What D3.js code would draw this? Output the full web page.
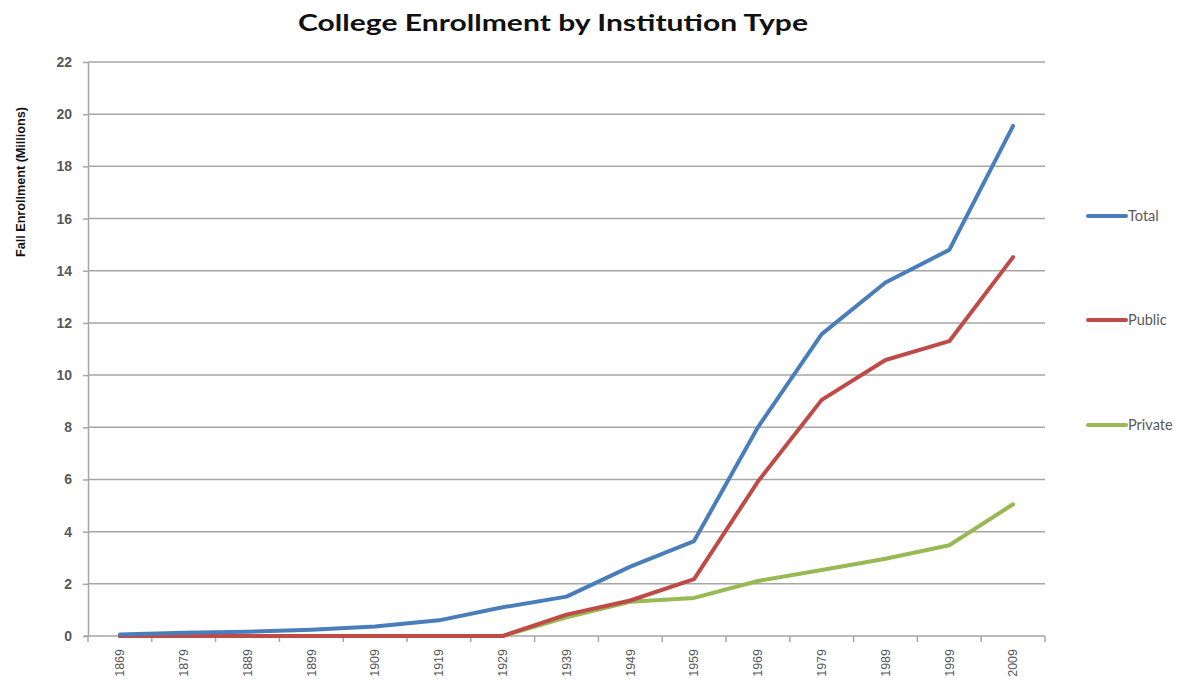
<!DOCTYPE html>
<html>
<head>
<meta charset="utf-8">
<script src="https://cdn.jsdelivr.net/npm/d3@7"></script>
<style>
  html, body { margin: 0; padding: 0; background: #fff; }
  svg { display: block; }
</style>
</head>
<body>
<svg id="chart" width="1184" height="682"></svg>
<script>
const years = ["1869","1879","1889","1899","1909","1919","1929","1939","1949","1959","1969","1979","1989","1999","2009"];
const totalValues   = [0.06, 0.12, 0.16, 0.24, 0.36, 0.60, 1.10, 1.51, 2.66, 3.64, 8.00, 11.57, 13.55, 14.80, 19.55];
const publicValues  = [0, 0, 0, 0, 0, 0, 0, 0.82, 1.36, 2.18, 5.92, 9.05, 10.58, 11.30, 14.52];
const privateValues = [0, 0, 0, 0, 0, 0, 0, 0.72, 1.31, 1.46, 2.11, 2.53, 2.96, 3.48, 5.05];
const seriesNames = ["Total", "Public", "Private"];
const seriesColors = ["#4a7ebb", "#be4b48", "#98b954"];
const yTicks = [0, 2, 4, 6, 8, 10, 12, 14, 16, 18, 20, 22];

const series = [
  { name: seriesNames[0], color: seriesColors[0], values: totalValues },
  { name: seriesNames[1], color: seriesColors[1], values: publicValues },
  { name: seriesNames[2], color: seriesColors[2], values: privateValues }
];

const svg = d3.select("#chart");
const plot = { left: 88, right: 1045, top: 62, bottom: 636 };

const x = d3.scaleBand().domain(years).range([plot.left, plot.right]).paddingInner(0).paddingOuter(0);
const xc = d => x(d) + x.bandwidth() / 2;
const y = d3.scaleLinear().domain([0, 22]).range([plot.bottom, plot.top]);

const gridColor = "#a6a6a6";
const textColor = "#595959";

// gridlines
svg.append("g")
  .selectAll("line")
  .data(yTicks.filter(t => t > 0))
  .join("line")
  .attr("x1", plot.left).attr("x2", plot.right)
  .attr("y1", d => y(d)).attr("y2", d => y(d))
  .attr("stroke", gridColor).attr("stroke-width", 1.5);

// y axis
const yAxis = svg.append("g")
  .attr("transform", `translate(${plot.left},0)`)
  .call(d3.axisLeft(y).tickValues(yTicks).tickSize(5).tickPadding(11).tickSizeOuter(0));
yAxis.select(".domain").attr("stroke", gridColor).attr("stroke-width", 1.5);
yAxis.selectAll(".tick line").attr("stroke", gridColor).attr("stroke-width", 1.5);
yAxis.selectAll(".tick text")
  .attr("fill", textColor)
  .style("font-family", "'Liberation Sans', Arial, sans-serif")
  .style("font-size", "14px")
  .style("font-weight", "bold");

// x axis (ticks between categories)
const xAxisG = svg.append("g").attr("transform", `translate(0,${plot.bottom})`);
xAxisG.append("line")
  .attr("x1", plot.left - 4).attr("x2", plot.right)
  .attr("y1", 0).attr("y2", 0)
  .attr("stroke", gridColor).attr("stroke-width", 1.5);
xAxisG.selectAll("line.tk")
  .data(years.concat(["end"]))
  .join("line")
  .attr("class", "tk")
  .attr("x1", (d, i) => i < years.length ? x(d) : x(years[years.length - 1]) + x.bandwidth())
  .attr("x2", (d, i) => i < years.length ? x(d) : x(years[years.length - 1]) + x.bandwidth())
  .attr("y1", 0).attr("y2", 6)
  .attr("stroke", gridColor).attr("stroke-width", 1.5);
xAxisG.selectAll("text")
  .data(years)
  .join("text")
  .attr("transform", d => `translate(${xc(d)},13) rotate(-90)`)
  .attr("text-anchor", "end")
  .attr("dy", "0.35em")
  .attr("fill", textColor)
  .style("font-family", "'Liberation Sans', Arial, sans-serif")
  .style("font-size", "12.5px")
  .text(d => d);

// lines
const line = d3.line()
  .x((d, i) => xc(years[i]))
  .y(d => y(d));

svg.append("g")
  .selectAll("path")
  .data(series.slice().reverse())
  .join("path")
  .attr("d", d => line(d.values))
  .attr("fill", "none")
  .attr("stroke", d => d.color)
  .attr("stroke-width", 4)
  .attr("stroke-linejoin", "round")
  .attr("stroke-linecap", "round");

// legend
const legendY = [216, 320, 425];
const lg = svg.append("g")
  .selectAll("g")
  .data(series)
  .join("g")
  .attr("transform", (d, i) => `translate(1088,${legendY[i]})`);
lg.append("line")
  .attr("x1", 0).attr("x2", 38)
  .attr("stroke", d => d.color)
  .attr("stroke-width", 4)
  .attr("stroke-linecap", "round");
lg.append("text")
  .attr("x", 40)
  .attr("dy", "0.35em")
  .attr("fill", textColor)
  .style("font-family", "Lato, 'Liberation Sans', sans-serif")
  .style("font-size", "14.5px")
  .text(d => d.name);

// title
svg.append("text")
  .attr("x", 553).attr("y", 31)
  .attr("text-anchor", "middle")
  .attr("fill", "#111")
  .attr("textLength", 510)
  .attr("lengthAdjust", "spacingAndGlyphs")
  .style("font-family", "Lato, 'Open Sans', sans-serif")
  .style("font-weight", "bold")
  .style("font-size", "22px")
  .text("College Enrollment by Institution Type");

// y axis title
svg.append("text")
  .attr("transform", "translate(25,182) rotate(-90)")
  .attr("text-anchor", "middle")
  .attr("fill", "#111")
  .attr("textLength", 150)
  .attr("lengthAdjust", "spacingAndGlyphs")
  .style("font-family", "'Liberation Sans Narrow', 'Liberation Sans', sans-serif")
  .style("font-weight", "bold")
  .style("font-size", "12px")
  .text("Fall Enrollment (Millions)");
</script>
</body>
</html>
